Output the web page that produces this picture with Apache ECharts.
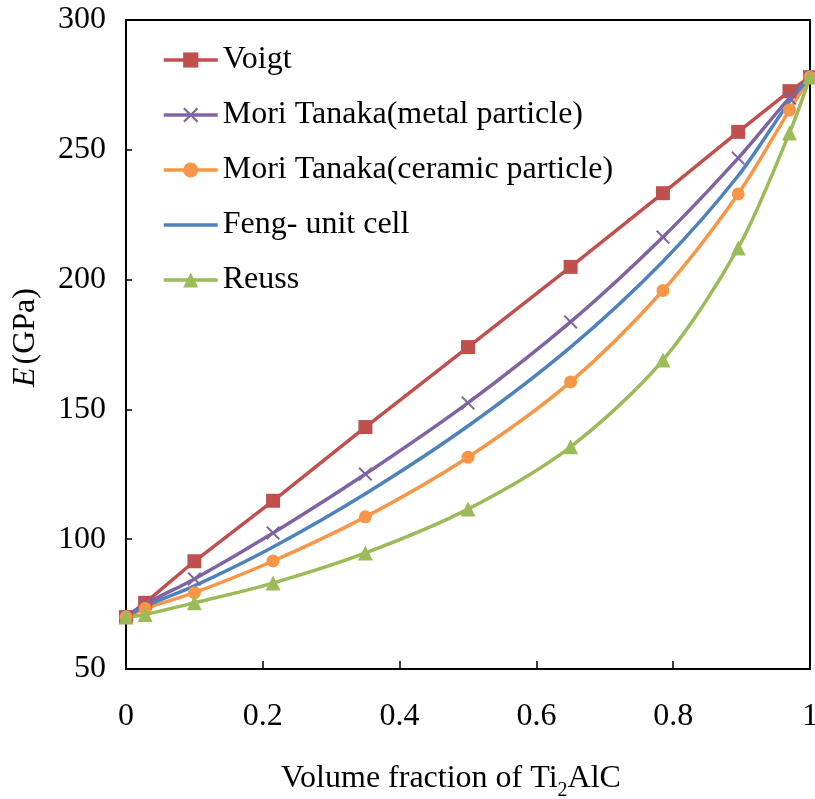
<!DOCTYPE html>
<html>
<head>
<meta charset="utf-8">
<script src="https://cdn.jsdelivr.net/npm/echarts@6/dist/echarts.min.js"></script>
<style>
  html, body { margin: 0; padding: 0; background: #fff; }
  #chart { width: 815px; height: 799px; }
</style>
</head>
<body>
<div id="chart"></div>
<script>
// Volume fraction of Ti2AlC at which each model is evaluated
const fractions = [0, 0.028, 0.1, 0.215, 0.35, 0.5, 0.65, 0.785, 0.895, 0.97, 1];

// Young's modulus E (GPa) predicted by each model
const voigt     = [70, 75.5, 91.5, 114.8, 143.2, 174.0, 204.9, 233.3, 256.9, 272.6, 278];
const mtMetal   = [70, 75.0, 84.7, 102.4, 125.1, 152.5, 183.7, 216.4, 246.8, 270.0, 278];
const mtCeramic = [70, 73.3, 79.4, 91.6, 108.6, 131.6, 160.6, 195.8, 233.0, 265.3, 278];
const feng      = [70, 74.2, 82.0, 97.0, 117.5, 143.6, 174.0, 207.0, 240.0, 268.5, 278];
const reuss     = [70, 71.0, 75.5, 83.1, 94.7, 111.6, 135.6, 169.0, 212.2, 256.5, 278];

const seriesNames = [
  'Voigt',
  'Mori Tanaka(metal particle)',
  'Mori Tanaka(ceramic particle)',
  'Feng- unit cell',
  'Reuss'
];

const FONT = 'Liberation Serif';
const FS = 32;
const crossPath = 'path://M0,1 L1,0 L5,4 L9,0 L10,1 L6,5 L10,9 L9,10 L5,6 L1,10 L0,9 L4,5 Z';

function pairs(values) {
  return fractions.map((f, i) => [f, values[i]]);
}

function lineSeries(name, values, color, symbol, size, smooth) {
  return {
    name: name,
    type: 'line',
    data: pairs(values),
    smooth: smooth,
    clip: false,
    symbol: symbol,
    symbolSize: size,
    showSymbol: symbol !== 'none',
    lineStyle: { color: color, width: 3.5 },
    itemStyle: { color: color },
    emphasis: { disabled: true },
    animation: false
  };
}

const chart = echarts.init(document.getElementById('chart'), null, { renderer: 'canvas' });

chart.setOption({
  backgroundColor: '#ffffff',
  animation: false,
  textStyle: { fontFamily: FONT },
  grid: {
    left: 126, top: 20, right: 5, bottom: 130,
    outerBoundsMode: 'none',
    containLabel: false,
    show: true, borderColor: '#000', borderWidth: 2, backgroundColor: 'transparent'
  },
  legend: {
    orient: 'vertical',
    left: 162,
    top: 44,
    padding: 0,
    itemWidth: 54,
    itemHeight: 19,
    itemGap: 23,
    lineStyle: { width: 3.5 },
    data: [
      seriesNames[0],
      seriesNames[1],
      seriesNames[2],
      { name: seriesNames[3], itemStyle: { opacity: 0 } },
      seriesNames[4]
    ],
    textStyle: { fontFamily: FONT, fontSize: FS, color: '#000', lineHeight: 30 },
    selectedMode: false
  },
  xAxis: {
    type: 'value',
    min: 0, max: 1, interval: 0.2,
    name: '{t|Volume fraction of Ti}{s|2}{t|AlC}',
    nameLocation: 'middle',
    nameGap: 90,
    nameTextStyle: {
      padding: [0, 34, 0, 0],
      rich: {
        t: { fontFamily: FONT, fontSize: FS, color: '#000', lineHeight: 36, verticalAlign: 'bottom' },
        s: { fontFamily: FONT, fontSize: 20, color: '#000', lineHeight: 36, verticalAlign: 'bottom', padding: [0, 0, -6, 0] }
      }
    },
    axisLine: { show: true, lineStyle: { color: '#000', width: 2 } },
    axisTick: { show: true, inside: true, length: 8, lineStyle: { color: '#000', width: 1.5 } },
    axisLabel: { fontFamily: FONT, fontSize: FS, color: '#000', margin: 32 },
    splitLine: { show: false }
  },
  yAxis: {
    type: 'value',
    min: 50, max: 300, interval: 50,
    name: '{i|E} {t|(GPa)}',
    nameLocation: 'middle',
    nameRotate: 90,
    nameGap: 84,
    nameTextStyle: {
      padding: [0, 0, 0, 14],
      rich: {
        i: { fontFamily: FONT, fontSize: FS, fontStyle: 'italic', color: '#000' },
        t: { fontFamily: FONT, fontSize: FS, color: '#000' }
      }
    },
    axisLine: { show: true, lineStyle: { color: '#000', width: 2 } },
    axisTick: { show: true, inside: true, length: 6, lineStyle: { color: '#000', width: 1.5 } },
    axisLabel: { fontFamily: FONT, fontSize: FS, color: '#000', margin: 20 },
    splitLine: { show: false }
  },
  series: [
    lineSeries(seriesNames[0], voigt, '#C0504D', 'rect', 14, false),
    lineSeries(seriesNames[1], mtMetal, '#8064A2', crossPath, 14, 0.3),
    lineSeries(seriesNames[2], mtCeramic, '#F79646', 'circle', 13, 0.3),
    lineSeries(seriesNames[3], feng, '#4F81BD', 'none', 0, 0.3),
    lineSeries(seriesNames[4], reuss, '#9BBB59', 'triangle', 15, 0.3)
  ]
});
</script>
</body>
</html>
